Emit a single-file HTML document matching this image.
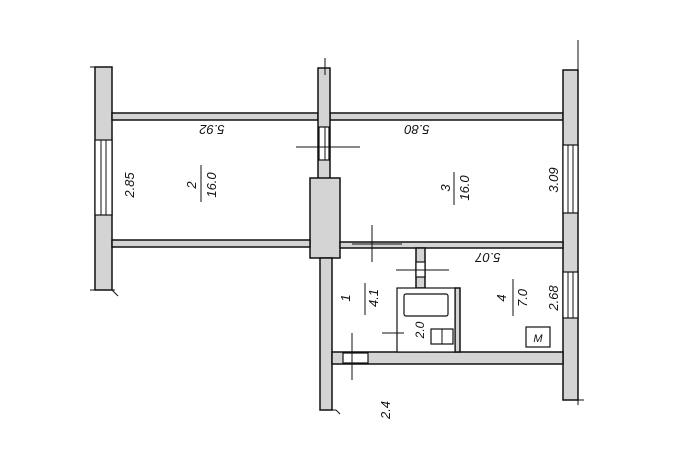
<!DOCTYPE html>
<html><head><style>
body{margin:0;background:#fff;}
svg{display:block}
text{font-family:"Liberation Sans",sans-serif;font-style:italic;fill:#111}
</style></head><body>
<svg width="690" height="460" viewBox="0 0 690 460" xmlns="http://www.w3.org/2000/svg">
<g fill="#d4d4d4" stroke="#111" stroke-width="1.5">
<!-- left wall -->
<rect x="95" y="67" width="17" height="223"/>
<!-- top walls -->
<rect x="112" y="113" width="206" height="7"/>
<rect x="330" y="113" width="233" height="7"/>
<!-- middle column -->
<rect x="318" y="68" width="12" height="112"/>
<rect x="310" y="178" width="30" height="80"/>
<rect x="320" y="258" width="12" height="152"/>
<!-- room2 bottom wall -->
<rect x="112" y="240" width="198" height="7"/>
<!-- right wall -->
<rect x="563" y="70" width="15" height="330"/>
<!-- kitchen top wall -->
<rect x="340" y="242" width="223" height="6"/>
<!-- bottom wall -->
<rect x="332" y="352" width="231" height="12"/>
<!-- stub -->
<rect x="416" y="248" width="9" height="40"/>
<!-- divider -->
<rect x="455" y="288" width="5" height="64"/>
</g>
<g fill="#fff" stroke="#111" stroke-width="1.2">
<!-- windows -->
<rect x="95" y="140" width="17" height="75"/>
<rect x="563" y="145" width="15" height="68"/>
<rect x="563" y="272" width="15" height="46"/>
<!-- door gaps -->
<rect x="319" y="127" width="10" height="33"/>
<rect x="416" y="262" width="9" height="15"/>
<rect x="343" y="353" width="25" height="10"/>
<!-- bath -->
<rect x="397" y="288" width="58" height="64"/>
<rect x="404" y="294" width="44" height="22" rx="2"/>
<rect x="431" y="329" width="22" height="15"/>
<rect x="526" y="327" width="24" height="20"/>
</g>
<g stroke="#111" stroke-width="1">
<line x1="101" y1="140" x2="101" y2="215"/><line x1="106" y1="140" x2="106" y2="215"/>
<line x1="568" y1="145" x2="568" y2="213"/><line x1="573" y1="145" x2="573" y2="213"/>
<line x1="568" y1="272" x2="568" y2="318"/><line x1="573" y1="272" x2="573" y2="318"/>
<line x1="442" y1="329" x2="442" y2="344"/>
<!-- door ticks -->
<line x1="296" y1="147" x2="360" y2="147"/><line x1="325" y1="127" x2="325" y2="160"/>
<line x1="372" y1="225" x2="372" y2="262"/><line x1="352" y1="244" x2="402" y2="244"/>
<line x1="396" y1="270" x2="449" y2="270"/>
<line x1="382" y1="333" x2="404" y2="333"/>
<line x1="352" y1="333" x2="352" y2="380"/>
<!-- sticks at wall ends -->
<line x1="90" y1="67" x2="112" y2="67"/><line x1="90" y1="290" x2="115" y2="290"/><line x1="112" y1="290" x2="118" y2="296"/>
<line x1="578" y1="40" x2="578" y2="70"/><line x1="563" y1="400" x2="584" y2="400"/><line x1="578" y1="400" x2="578" y2="405"/>
<line x1="325" y1="58" x2="325" y2="75"/><line x1="320" y1="410" x2="336" y2="410"/><line x1="336" y1="410" x2="340" y2="414"/>
<line x1="201" y1="165" x2="201" y2="202"/>
<line x1="454" y1="172" x2="454" y2="205"/>
<line x1="365" y1="283" x2="365" y2="315"/>
<line x1="513" y1="279" x2="513" y2="316"/>
</g>
<g font-size="13">
<text transform="translate(212,125) rotate(180)" text-anchor="middle">5.92</text>
<text transform="translate(417,125) rotate(180)" text-anchor="middle">5.80</text>
<text transform="translate(488,253) rotate(180)" text-anchor="middle">5.07</text>
<text transform="translate(134,185) rotate(-90)" text-anchor="middle">2.85</text>
<text transform="translate(196,185) rotate(-90)" text-anchor="middle">2</text>
<text transform="translate(216,185) rotate(-90)" text-anchor="middle">16.0</text>
<text transform="translate(450,188) rotate(-90)" text-anchor="middle">3</text>
<text transform="translate(469,188) rotate(-90)" text-anchor="middle">16.0</text>
<text transform="translate(558,180) rotate(-90)" text-anchor="middle">3.09</text>
<text transform="translate(350,298) rotate(-90)" text-anchor="middle">1</text>
<text transform="translate(378,298) rotate(-90)" text-anchor="middle">4.1</text>
<text transform="translate(506,298) rotate(-90)" text-anchor="middle">4</text>
<text transform="translate(527,298) rotate(-90)" text-anchor="middle">7.0</text>
<text transform="translate(558,298) rotate(-90)" text-anchor="middle">2.68</text>
<text transform="translate(424,330) rotate(-90)" text-anchor="middle" font-size="12">2.0</text>
<text transform="translate(390,410) rotate(-90)" text-anchor="middle">2.4</text>
<text x="538" y="342" text-anchor="middle" font-size="11">M</text>
</g>
</svg>
</body></html>
